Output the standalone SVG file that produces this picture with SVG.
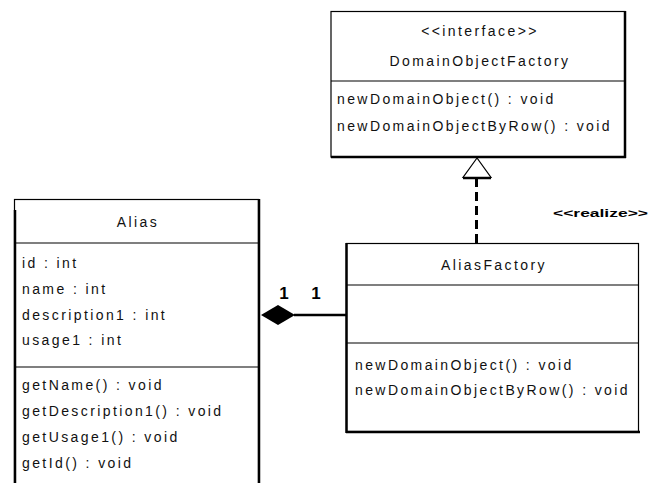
<svg xmlns="http://www.w3.org/2000/svg" width="651" height="483" viewBox="0 0 651 483">
<style>
.box{fill:#fff;stroke:#000;stroke-width:1.2}
.sep{stroke:#000;stroke-width:1.2}
.edge{stroke:#000;stroke-width:2.5;fill:none}
.t{font-family:"Liberation Sans",Arial,sans-serif;font-size:14px;letter-spacing:2.4px;fill:#111}
.c{text-anchor:middle}
.m{font-family:"Liberation Sans",Arial,sans-serif;font-size:17px;font-weight:bold;fill:#000}
.st{font-family:"Liberation Sans",Arial,sans-serif;font-size:10px;font-weight:bold;fill:#000}
</style>
<rect width="651" height="483" fill="#fff"/>
<g id="DomainObjectFactory">
<rect class="box" x="331" y="11.5" width="294" height="145.5"/>
<line class="edge" x1="625" y1="11" x2="625" y2="158"/>
<line class="edge" x1="331" y1="157" x2="626" y2="157"/>
<line class="sep" x1="331" y1="81" x2="625" y2="81"/>
<text class="t c" x="480" y="36">&lt;&lt;interface&gt;&gt;</text>
<text class="t c" x="480" y="66">DomainObjectFactory</text>
<text class="t" x="337" y="104">newDomainObject() : void</text>
<text class="t" x="337" y="131">newDomainObjectByRow() : void</text>
</g>
<g id="Alias">
<rect class="box" x="14.5" y="199.5" width="244" height="300"/>
<line class="edge" x1="259" y1="199" x2="259" y2="483"/>
<line class="edge" x1="15" y1="210" x2="15" y2="483"/>
<line class="sep" x1="14" y1="243" x2="259" y2="243"/>
<line class="sep" x1="14" y1="367" x2="259" y2="367"/>
<text class="t c" x="138" y="227">Alias</text>
<text class="t" x="22" y="268">id : int</text>
<text class="t" x="22" y="294">name : int</text>
<text class="t" x="22" y="320">description1 : int</text>
<text class="t" x="22" y="345">usage1 : int</text>
<text class="t" x="22" y="390">getName() : void</text>
<text class="t" x="22" y="416">getDescription1() : void</text>
<text class="t" x="22" y="442">getUsage1() : void</text>
<text class="t" x="22" y="468">getId() : void</text>
</g>
<g id="AliasFactory">
<rect class="box" x="346.5" y="243.5" width="292" height="188"/>
<line class="edge" x1="346.5" y1="243" x2="346.5" y2="433"/>
<line class="edge" x1="346" y1="432" x2="640" y2="432"/>
<line class="sep" x1="346" y1="285" x2="639" y2="285"/>
<line class="sep" x1="346" y1="343" x2="639" y2="343"/>
<text class="t c" x="494" y="270">AliasFactory</text>
<text class="t" x="355" y="370">newDomainObject() : void</text>
<text class="t" x="355" y="395">newDomainObjectByRow() : void</text>
</g>
<g id="connectors">
<line x1="476.5" y1="178" x2="476.5" y2="243" stroke="#000" stroke-width="3" stroke-dasharray="9,5"/>
<polygon points="477,158 463,177.5 491,177.5" fill="#fff" stroke="#000" stroke-width="1.2"/>
<line x1="463" y1="178" x2="491" y2="178" stroke="#000" stroke-width="2.5"/>
<text class="st" x="553" y="217" textLength="95" lengthAdjust="spacingAndGlyphs">&lt;&lt;realize&gt;&gt;</text>
<line x1="294" y1="315" x2="346" y2="315" stroke="#000" stroke-width="2.5"/>
<polygon points="261,315 278,305 295,315 278,325" fill="#000"/>
<text class="m" x="284" y="299" text-anchor="middle">1</text>
<text class="m" x="316" y="299" text-anchor="middle">1</text>
</g>
</svg>
